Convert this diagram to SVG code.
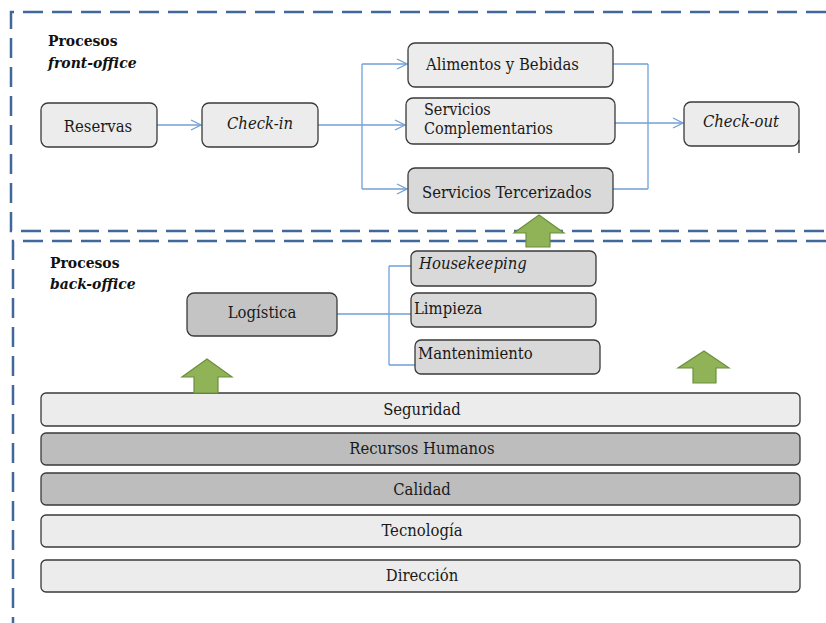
<svg xmlns="http://www.w3.org/2000/svg" width="826" height="623" viewBox="0 0 826 623">
  <style>
    .frame { fill: none; stroke: #41689b; stroke-width: 2.5; stroke-dasharray: 20 9; }
    .box { stroke: #3a3a3a; stroke-width: 1.3; }
    .light { fill: #ececec; }
    .mid { fill: #d9d9d9; }
    .dark { fill: #bdbdbd; }
    .logi { fill: #c4c4c4; }
    text { font-family: "DejaVu Serif Condensed", "DejaVu Serif", serif; font-stretch: condensed; font-size: 16.5px; fill: #1a1a1a; }
    .c { text-anchor: middle; }
    .i { font-style: italic; }
    .s { font-size: 16px; }
    .h { font-weight: bold; fill: #111; font-size: 15.5px; }
    .link { fill: none; stroke: #72a0d6; stroke-width: 1.3; }
    .up { fill: #8fb356; stroke: #6d8f3e; stroke-width: 1.2; }
  </style>
  <defs>
    <marker id="open" markerWidth="12" markerHeight="12" refX="11" refY="6" orient="auto" markerUnits="userSpaceOnUse">
      <path d="M1,1 L11,6 L1,11" fill="none" stroke="#72a0d6" stroke-width="1.3"/>
    </marker>
  </defs>
  <rect width="826" height="623" fill="#ffffff"/>

  <!-- section frames -->
  <g id="frames">
    <path class="frame" d="M826,12 H11 V231 H826"/>
    <path class="frame" d="M826,241 H13 V623"/>
  </g>

  <!-- section titles -->
  <g id="titles">
    <text class="h" x="48" y="46">Procesos</text>
    <text class="h i" x="48" y="68">front-office</text>
    <text class="h" x="50" y="268">Procesos</text>
    <text class="h i" x="50" y="289">back-office</text>
  </g>

  <!-- connectors -->
  <g id="connectors">
    <line class="link" x1="157" y1="125" x2="201" y2="125" marker-end="url(#open)"/>
    <path class="link" d="M318,125 H362"/>
    <path class="link" d="M362,64 V189"/>
    <line class="link" x1="362" y1="64" x2="407" y2="64" marker-end="url(#open)"/>
    <line class="link" x1="362" y1="125" x2="405" y2="125" marker-end="url(#open)"/>
    <line class="link" x1="362" y1="189" x2="407" y2="189" marker-end="url(#open)"/>
    <path class="link" d="M613,64 H648 M615,123 H648 M613,189 H648 M648,64 V189"/>
    <line class="link" x1="648" y1="123" x2="683" y2="123" marker-end="url(#open)"/>
    <path class="link" d="M337,314 H411 M389,266 V365 M389,266 H411 M389,365 H415"/>
  </g>

  <!-- front-office nodes -->
  <g id="reservas">
    <rect class="box light" x="41" y="103" width="116" height="44" rx="7"/>
    <text class="c" x="98" y="132">Reservas</text>
  </g>
  <g id="check-in">
    <rect class="box light" x="202" y="103" width="116" height="44" rx="7"/>
    <text class="c i" x="260" y="129">Check-in</text>
  </g>
  <g id="alimentos">
    <rect class="box light" x="408" y="43" width="205" height="44" rx="7"/>
    <text x="426" y="70">Alimentos y Bebidas</text>
  </g>
  <g id="complementarios">
    <rect class="box light" x="406" y="98" width="209" height="46" rx="7"/>
    <text class="s" x="424" y="115">Servicios</text>
    <text class="s" x="424" y="134">Complementarios</text>
  </g>
  <g id="tercerizados">
    <rect class="box mid" x="408" y="168" width="205" height="45" rx="7"/>
    <text x="422" y="198">Servicios Tercerizados</text>
  </g>
  <g id="check-out">
    <rect class="box light" x="684" y="102" width="115" height="44" rx="7"/>
    <text class="c i" x="741" y="127">Check-out</text>
    <line x1="799" y1="140" x2="799" y2="153" stroke="#222" stroke-width="1.2"/>
  </g>

  <!-- back-office nodes -->
  <g id="logistica">
    <rect class="box logi" x="187" y="293" width="150" height="43" rx="7"/>
    <text class="c" x="262" y="318">Logística</text>
  </g>
  <g id="housekeeping">
    <rect class="box mid" x="411" y="251" width="185" height="35" rx="6"/>
    <text class="i" x="419" y="269">Housekeeping</text>
  </g>
  <g id="limpieza">
    <rect class="box mid" x="411" y="293" width="185" height="34" rx="6"/>
    <text x="414" y="314">Limpieza</text>
  </g>
  <g id="mantenimiento">
    <rect class="box mid" x="415" y="340" width="185" height="34" rx="6"/>
    <text x="418" y="359">Mantenimiento</text>
  </g>

  <!-- support layers -->
  <g id="seguridad">
    <rect class="box light" x="41" y="393" width="759" height="33" rx="5"/>
    <text class="c" x="422" y="415">Seguridad</text>
  </g>
  <g id="recursos-humanos">
    <rect class="box dark" x="41" y="433" width="759" height="32" rx="5"/>
    <text class="c" x="422" y="454">Recursos Humanos</text>
  </g>
  <g id="calidad">
    <rect class="box dark" x="41" y="473" width="759" height="32" rx="5"/>
    <text class="c" x="422" y="495">Calidad</text>
  </g>
  <g id="tecnologia">
    <rect class="box light" x="41" y="515" width="759" height="32" rx="5"/>
    <text class="c" x="422" y="536">Tecnología</text>
  </g>
  <g id="direccion">
    <rect class="box light" x="41" y="560" width="759" height="32" rx="5"/>
    <text class="c" x="422" y="581">Dirección</text>
  </g>

  <!-- upward block arrows -->
  <g id="arrows-up">
    <path class="up" d="M539,215 L564,233 L550,233 L550,247 L526,247 L526,233 L514,233 Z"/>
    <path class="up" d="M207,359 L232,377 L218,377 L218,393 L194,393 L194,377 L182,377 Z"/>
    <path class="up" d="M704,351 L729,368 L716,368 L716,383 L693,383 L693,368 L678,368 Z"/>
  </g>
</svg>
